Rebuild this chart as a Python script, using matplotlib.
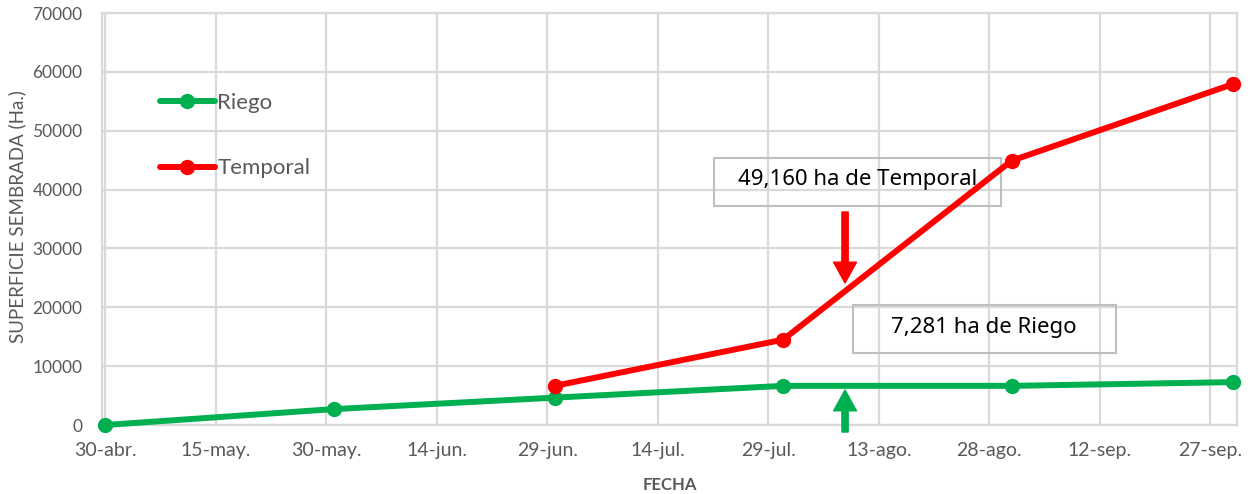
import matplotlib
matplotlib.use("Agg")
import matplotlib.pyplot as plt
from matplotlib.patches import Rectangle, FancyArrowPatch

# ---- data (days since 30-abr) ----
riego_days = [0, 31, 61, 92, 123, 153]
riego_vals = [0, 2700, 4650, 6650, 6650, 7281]
temporal_days = [61, 92, 123, 153]
temporal_vals = [6650, 14500, 44900, 57900]
tick_days = [0, 15, 30, 45, 60, 75, 90, 105, 120, 135, 150]
tick_labels = ["30-abr.", "15-may.", "30-may.", "14-jun.", "29-jun.", "14-jul.",
               "29-jul.", "13-ago.", "28-ago.", "12-sep.", "27-sep."]
y_ticks = [0, 10000, 20000, 30000, 40000, 50000, 60000, 70000]
note_temporal = "49,160 ha de Temporal"
note_riego = "7,281 ha de Riego"

GREEN = "#00B050"
RED = "#FF0000"
GRAY = "#595959"
GRID = "#D9D9D9"

plt.rcParams['font.family'] = ['Lato', 'DejaVu Sans']

fig = plt.figure(figsize=(12.52, 4.94), dpi=100)
ax = fig.add_axes([102/1252, 69/494, (1237-102)/1252, (425-13)/494])

ax.plot(riego_days, riego_vals, color=GREEN, lw=4.3, marker='o', ms=10,
        label="Riego", zorder=4, solid_capstyle='round', clip_on=False)
ax.plot(temporal_days, temporal_vals, color=RED, lw=4.3, marker='o', ms=10,
        label="Temporal", zorder=4, solid_capstyle='round', clip_on=False)

ax.set_xlim(-0.45, 153.6)
ax.set_ylim(0, 70000)
ax.set_xticks(tick_days)
ax.set_xticklabels(tick_labels)
ax.set_yticks(y_ticks)
ax.set_yticklabels([str(v) for v in y_ticks])
ax.tick_params(length=0, colors=GRAY)
ax.tick_params(axis='x', pad=12, labelsize=14)
ax.tick_params(axis='y', pad=14, labelsize=12.5)
ax.grid(True, color=GRID, lw=1.6)
ax.set_axisbelow(True)
for s in ax.spines.values():
    s.set_color(GRID)
    s.set_linewidth(1.6)

ax.set_ylabel("SUPERFICIE SEMBRADA (Ha.)", color=GRAY, fontsize=13.5)
ax.yaxis.set_label_coords(-0.067, 0.505)
fig.text(670/1252, 1 - 485/494, "FECHA", color=GRAY, fontsize=12,
         fontweight='bold', ha='center', va='center')

leg = ax.legend(loc='upper left', bbox_to_anchor=(0.043, 0.828), frameon=False,
                fontsize=16, handlelength=2.5, labelspacing=2.05, handletextpad=0.1,
                borderaxespad=0)
for t in leg.get_texts():
    t.set_color(GRAY)

# annotation boxes (transparent)
ax.add_patch(Rectangle((82.6, 37209), 121.6-82.6, 45364-37209, fill=False,
                       edgecolor="#BFBFBF", lw=1.5, zorder=3))
ax.text(102.1, 41700, note_temporal, ha='center', va='center', fontsize=16,
        color='black', family=['Noto Sans', 'DejaVu Sans'], zorder=3)
ax.add_patch(Rectangle((101.5, 12233), 137.2-101.5, 20388-12233, fill=False,
                       edgecolor="#BFBFBF", lw=1.5, zorder=3))
ax.text(119.3, 16500, note_riego, ha='center', va='center', fontsize=16,
        color='black', family=['Noto Sans', 'DejaVu Sans'], zorder=3)

# arrows
arr1 = FancyArrowPatch((100.4, 36189), (100.4, 24126),
                       arrowstyle="simple,head_length=1.0,head_width=1.1,tail_width=0.3",
                       mutation_scale=15, color=RED, shrinkA=0, shrinkB=0, zorder=5)
ax.add_patch(arr1)
arr2 = FancyArrowPatch((100.4, -1190), (100.4, 5947),
                       arrowstyle="simple,head_length=1.0,head_width=1.1,tail_width=0.3",
                       mutation_scale=15, color=GREEN, shrinkA=0, shrinkB=0, zorder=5,
                       clip_on=False)
ax.add_patch(arr2)

fig.savefig("out.png", dpi=100)
